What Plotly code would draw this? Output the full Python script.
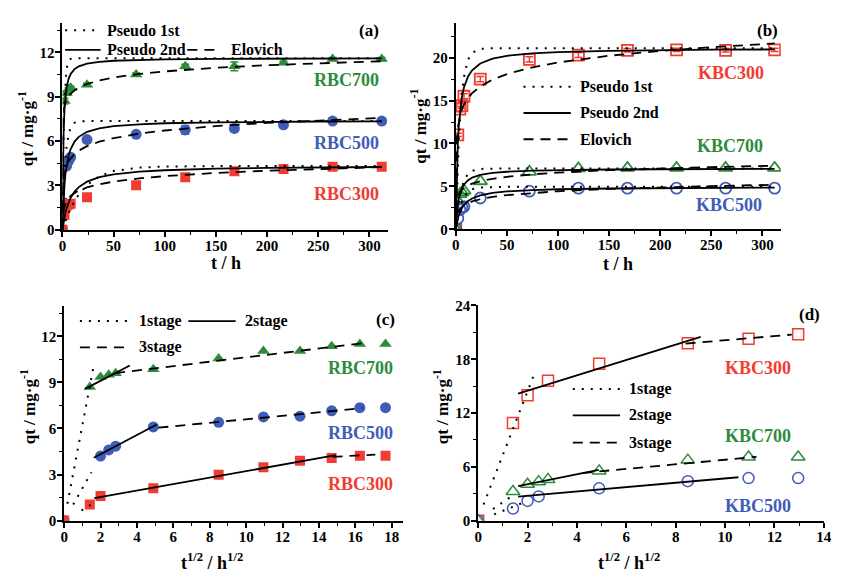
import plotly.graph_objects as go

FONT = "Liberation Serif"
GREEN, BLUE, RED = "#2E8B3E", "#3F5DB8", "#F03C32"
W, H = 843, 575

# ---------------- kinetic data (panels a, b) ----------------
kin_t = [0, 2, 4, 6, 8, 24, 72, 120, 168, 216, 264, 312]
rbc700 = [0, 8.7, 9.25, 9.5, 9.6, 9.8, 10.5, 11.05, 11.05, 11.3, 11.55, 11.55]
rbc500 = [0, 1.8, 4.3, 4.65, 4.9, 6.1, 6.45, 6.75, 6.85, 7.1, 7.35, 7.35]
rbc300 = [0, 1.0, 1.6, 1.7, 1.75, 2.2, 3.0, 3.55, 3.95, 4.1, 4.25, 4.25]
rbc700_err = [0, 0.2, 0.15, 0.1, 0.1, 0.1, 0.1, 0.15, 0.3, 0.1, 0.1, 0.1]
rbc500_err = [0, 0.15, 0.2, 0.2, 0.15, 0.1, 0.1, 0.3, 0.2, 0.1, 0.1, 0.1]
rbc300_err = [0, 0.25, 0.15, 0.1, 0.1, 0.15, 0.25, 0.2, 0.1, 0.1, 0.1, 0.1]

kbc300 = [0, 11.0, 14.0, 14.4, 15.5, 17.5, 19.8, 20.3, 20.85, 20.9, 20.85, 20.9]
kbc700 = [0, 3.3, 4.1, 4.3, 4.5, 5.6, 6.7, 7.1, 7.15, 7.15, 7.15, 7.15]
kbc500 = [0, 1.3, 2.3, 2.6, 2.65, 3.65, 4.45, 4.8, 4.8, 4.8, 4.8, 4.8]
kbc300_err = [0, 0.2, 0.3, 0.3, 0.3, 0.3, 0.3, 0.3, 0.2, 0.2, 0.2, 0.2]

curve_t = [0, 0.5, 1, 2, 3, 4, 6, 8, 12, 16, 24, 36, 50, 75, 100, 150, 200, 250, 312]
a700_pfo = [0, 3.42, 5.84, 8.70, 10.16, 10.88, 11.43, 11.56, 11.6, 11.6, 11.6, 11.6, 11.6, 11.6, 11.6, 11.6, 11.6, 11.6, 11.6]
a700_pso = [0, 4.37, 6.35, 8.21, 9.10, 9.62, 10.21, 10.53, 10.87, 11.05, 11.23, 11.36, 11.43, 11.49, 11.52, 11.56, 11.58, 11.59, 11.59]
a700_elo = [0, 7.53, 7.95, 8.37, 8.61, 8.78, 9.03, 9.20, 9.44, 9.61, 9.86, 10.10, 10.30, 10.54, 10.71, 10.96, 11.13, 11.26, 11.40]
a500_pfo = [0, 1.18, 2.17, 3.70, 4.78, 5.54, 6.45, 6.90, 7.24, 7.32, 7.35, 7.35, 7.35, 7.35, 7.35, 7.35, 7.35, 7.35, 7.35]
a500_pso = [0, 1.11, 1.93, 3.06, 3.80, 4.33, 5.02, 5.46, 5.98, 6.28, 6.62, 6.86, 7.00, 7.13, 7.20, 7.26, 7.30, 7.32, 7.33]
a500_elo = [0, 2.78, 3.29, 3.80, 4.10, 4.31, 4.62, 4.83, 5.13, 5.35, 5.65, 5.95, 6.19, 6.50, 6.71, 7.01, 7.23, 7.39, 7.56]
a300_pfo = [0, 0.11, 0.21, 0.41, 0.60, 0.78, 1.12, 1.43, 1.95, 2.38, 3.02, 3.61, 3.97, 4.20, 4.27, 4.30, 4.30, 4.30, 4.30]
a300_pso = [0, 0.25, 0.48, 0.86, 1.17, 1.43, 1.85, 2.16, 2.59, 2.88, 3.25, 3.55, 3.74, 3.93, 4.02, 4.13, 4.18, 4.21, 4.24]
a300_elo = [0, 0.90, 1.22, 1.56, 1.77, 1.91, 2.13, 2.28, 2.49, 2.64, 2.86, 3.07, 3.25, 3.47, 3.62, 3.84, 3.99, 4.11, 4.23]

b300_pfo = [0, 2.29, 4.34, 7.79, 10.52, 12.69, 15.79, 17.75, 19.76, 20.57, 21.02, 21.1, 21.1, 21.1, 21.1, 21.1, 21.1, 21.1, 21.1]
b300_pso = [0, 3.88, 6.56, 10.01, 12.14, 13.58, 15.41, 16.53, 17.81, 18.53, 19.32, 19.88, 20.21, 20.49, 20.64, 20.79, 20.87, 20.92, 20.95]
b300_elo = [0, 9.12, 10.46, 11.81, 12.60, 13.16, 13.95, 14.51, 15.30, 15.86, 16.65, 17.44, 18.08, 18.87, 19.43, 20.22, 20.78, 21.22, 21.65]
b700_pfo = [0, 0.68, 1.29, 2.34, 3.20, 3.91, 4.96, 5.67, 6.46, 6.81, 7.04, 7.10, 7.10, 7.10, 7.10, 7.10, 7.10, 7.10, 7.10]
b700_pso = [0, 1.05, 1.83, 2.91, 3.63, 4.13, 4.80, 5.22, 5.73, 6.02, 6.34, 6.58, 6.71, 6.84, 6.90, 6.97, 7.00, 7.02, 7.04]
b700_elo = [0, 2.89, 3.38, 3.86, 4.14, 4.35, 4.63, 4.83, 5.12, 5.32, 5.60, 5.89, 6.12, 6.41, 6.61, 6.89, 7.09, 7.25, 7.41]
b500_pfo = [0, 0.43, 0.82, 1.50, 2.07, 2.54, 3.27, 3.78, 4.38, 4.67, 4.88, 4.94, 4.95, 4.95, 4.95, 4.95, 4.95, 4.95, 4.95]
b500_pso = [0, 0.38, 0.71, 1.24, 1.65, 1.98, 2.48, 2.83, 3.30, 3.60, 3.96, 4.24, 4.42, 4.58, 4.67, 4.76, 4.81, 4.83, 4.86]
b500_elo = [0, 1.11, 1.50, 1.92, 2.17, 2.36, 2.61, 2.80, 3.06, 3.25, 3.51, 3.78, 3.99, 4.25, 4.44, 4.71, 4.90, 5.04, 5.19]

# ---------------- intraparticle diffusion data (panels c, d) ----------------
c_x = [0, 1.41, 2, 2.45, 2.83, 4.9, 8.49, 10.95, 12.96, 14.7, 16.25, 17.66]
c_rbc700 = [0, 8.7, 9.35, 9.5, 9.6, 9.85, 10.55, 11.05, 11.05, 11.35, 11.5, 11.5]
c_rbc500 = [0, None, 4.2, 4.6, 4.85, 6.1, 6.4, 6.75, 6.8, 7.15, 7.35, 7.35]
c_rbc300 = [0, 1.05, 1.6, None, None, 2.1, 2.98, 3.48, 3.9, 4.08, 4.22, 4.22]

d_x = [0, 1.41, 2, 2.45, 2.83, 4.9, 8.49, 10.95, 12.96]
d_kbc300 = [0, 10.9, 14.0, None, 15.6, 17.5, 19.8, 20.3, 20.8]
d_kbc700 = [0, 3.25, 4.05, 4.35, 4.6, 5.55, 6.75, 7.1, 7.1]
d_kbc500 = [0, 1.35, 2.2, 2.7, None, 3.6, 4.4, 4.75, 4.75]

c700_s1 = ([0.18, 1.66], [1.1, 10.3])
c700_s2 = ([1.15, 3.61], [8.58, 10.1])
c700_s3 = ([2.8, 16.4], [9.6, 11.55])
c500_s1 = ([0.5, 1.5], [1.05, 3.15])
c500_s2 = ([1.63, 5.09], [4.09, 6.26])
c500_s3 = ([5.18, 16.38], [6.05, 7.32])
c300_s1 = ([0.95, 1.45], [0.66, 1.02])
c300_s2 = ([1.66, 14.93], [1.47, 4.26])
c300_s3 = ([14.75, 17.1], [4.15, 4.3])

d300_s1 = ([0.22, 2.25], [1.8, 16.2])
d300_s2 = ([1.62, 9.01], [14.17, 20.5])
d300_s3 = ([8.4, 12.7], [19.75, 20.75])
d700_s1 = ([0.6, 1.45], [1.3, 2.9])
d700_s2 = ([1.62, 4.88], [3.86, 5.67])
d700_s3 = ([4.22, 11.27], [5.31, 7.12])
d500_s1 = ([0.65, 2.0], [0.7, 2.2])
d500_s2 = ([1.62, 10.54], [2.67, 4.84])

DOT = "2px,7px"
DASH = "10px,7px"

fig = go.Figure()


def pts(x, y, sym, color, ax, err=None, size=10, lw=0):
    tr = dict(x=x, y=y, mode="markers", xaxis="x" + ax, yaxis="y" + ax,
              marker=dict(symbol=sym, size=size, color=color,
                          line=dict(width=lw, color=color)),
              showlegend=False, hoverinfo="skip")
    if err is not None:
        tr["error_y"] = dict(type="data", array=err, color=color,
                             thickness=1.5, width=4)
    fig.add_trace(go.Scatter(**tr))


def line(x, y, dash, ax, width=1.8):
    fig.add_trace(go.Scatter(x=x, y=y, mode="lines", xaxis="x" + ax, yaxis="y" + ax,
                             line=dict(color="black", width=width, dash=dash),
                             showlegend=False, hoverinfo="skip"))


# panel a
pts(kin_t, rbc700, "triangle-up", GREEN, "", rbc700_err, 11)
pts(kin_t, rbc500, "circle", BLUE, "", rbc500_err, 11)
pts(kin_t, rbc300, "square", RED, "", rbc300_err, 10)
for p, s, e in [(a700_pfo, a700_pso, a700_elo), (a500_pfo, a500_pso, a500_elo),
                (a300_pfo, a300_pso, a300_elo)]:
    line(curve_t, p, DOT, "", 2)
    line(curve_t, s, "solid", "")
    line(curve_t, e, DASH, "")

# panel b
pts(kin_t, kbc300, "square-open", RED, "2", kbc300_err, 11, 1.8)
pts(kin_t, kbc700, "triangle-up-open", GREEN, "2", None, 12, 1.8)
pts(kin_t, kbc500, "circle-open", BLUE, "2", None, 11, 1.8)
for p, s, e in [(b300_pfo, b300_pso, b300_elo), (b700_pfo, b700_pso, b700_elo),
                (b500_pfo, b500_pso, b500_elo)]:
    line(curve_t, p, DOT, "2", 2)
    line(curve_t, s, "solid", "2")
    line(curve_t, e, DASH, "2")

# panel c
pts(c_x, c_rbc700, "triangle-up", GREEN, "3", None, 11)
pts(c_x, c_rbc500, "circle", BLUE, "3", None, 11)
pts(c_x, c_rbc300, "square", RED, "3", None, 10)
for s1, s2, s3 in [(c700_s1, c700_s2, c700_s3), (c500_s1, c500_s2, c500_s3),
                   (c300_s1, c300_s2, c300_s3)]:
    line(*s1, DOT, "3", 2)
    line(*s2, "solid", "3")
    line(*s3, DASH, "3")

# panel d
pts(d_x, d_kbc300, "square-open", RED, "4", None, 11, 1.5)
pts(d_x, d_kbc700, "triangle-up-open", GREEN, "4", None, 12, 1.5)
pts(d_x, d_kbc500, "circle-open", BLUE, "4", None, 11, 1.5)
line(*d300_s1, DOT, "4", 2)
line(*d300_s2, "solid", "4")
line(*d300_s3, DASH, "4")
line(*d700_s1, DOT, "4", 2)
line(*d700_s2, "solid", "4")
line(*d700_s3, DASH, "4")
line(*d500_s1, DOT, "4", 2)
line(*d500_s2, "solid", "4")


def axis(domain, rng, dtick, minor, standoff, **kw):
    d = dict(domain=domain, range=rng, dtick=dtick, tick0=0,
             showline=True, linewidth=2, linecolor="black",
             ticks="outside", ticklen=5, tickwidth=1.5, tickcolor="black",
             minor=dict(ticks="outside", ticklen=3, tickwidth=1.2,
                        tickcolor="black", dtick=minor, tick0=0),
             showgrid=False, zeroline=False, ticklabelstandoff=standoff,
             tickfont=dict(family=FONT, size=15, color="black", weight="bold"))
    d.update(kw)
    return d


def px_x(px):
    return px / W


def px_y(py):
    return 1 - py / H


fig.update_layout(
    width=W, height=H, margin=dict(l=0, r=0, t=0, b=0),
    paper_bgcolor="white", plot_bgcolor="white",
    xaxis=axis([px_x(59.3), px_x(389.4)], [0, 318], 50, 25, -4, anchor="y"),
    yaxis=axis([px_y(228), px_y(15.2)], [0, 14], 3, 1.5, -2, anchor="x"),
    xaxis2=axis([px_x(458.3), px_x(788)], [0, 318], 50, 25, -4, anchor="y2"),
    yaxis2=axis([px_y(227.7), px_y(15.7)], [0, 24], 5, 2.5, -2, anchor="x2"),
    xaxis3=axis([px_x(61), px_x(404.4)], [0, 18.6], 2, 1, -4, anchor="y3"),
    yaxis3=axis([px_y(527.3), px_y(306.1)], [0, 14], 3, 1.5, -2, anchor="x3"),
    xaxis4=axis([px_x(481), px_x(831.7)], [0, 14], 2, 1, -4, anchor="y4"),
    yaxis4=axis([px_y(527.3), px_y(306)], [0, 24], 6, 3, -2, anchor="x4"),
)

anns = []
shapes = []


def text(px, py, s, size=16, color="black", xanchor="center", angle=0):
    anns.append(dict(x=px_x(px), y=px_y(py), xref="paper", yref="paper",
                     text=s, showarrow=False, xanchor=xanchor, yanchor="middle",
                     textangle=angle,
                     font=dict(family=FONT, size=size, color=color, weight="bold")))


def seg(x0, x1, py, dash, width=1.8):
    shapes.append(dict(type="line", xref="paper", yref="paper",
                       x0=px_x(x0), x1=px_x(x1), y0=px_y(py), y1=px_y(py),
                       line=dict(color="black", width=width, dash=dash)))


# axis titles
YT = "qt / mg·g<sup>-1</sup>"
text(22, 124, YT, 17, angle=-90)
text(420, 122, YT, 17, angle=-90)
text(24, 410, YT, 17, angle=-90)
text(443, 410, YT, 17, angle=-90)
text(225, 262, "t / h", 18)
text(623, 263, "t / h", 18)
text(211, 569, "t<sup>1/2</sup> / h<sup>1/2</sup>", 18)
text(634, 569, "t<sup>1/2</sup> / h<sup>1/2</sup>", 18)

# panel labels
text(370, 23, "(a)", 17)
text(775, 23, "(b)", 17)
text(387, 320, "(c)", 17)
text(817, 315, "(d)", 17)

# series labels
text(347, 74, "RBC700", 18, GREEN)
text(347, 139, "RBC500", 18, BLUE)
text(347, 191, "RBC300", 18, RED)
text(737, 67, "KBC300", 18, RED)
text(736, 142, "KBC700", 18, GREEN)
text(735, 203, "KBC500", 18, BLUE)
text(362, 370, "RBC700", 18, GREEN)
text(362, 437, "RBC500", 18, BLUE)
text(362, 490, "RBC300", 18, RED)
text(765, 370, "KBC300", 18, RED)
text(765, 440, "KBC700", 18, GREEN)
text(765, 512, "KBC500", 18, BLUE)

# legends
seg(62, 97, 23, DOT, 2)
text(102, 23, "Pseudo 1st", 16, xanchor="left")
seg(62, 98, 43, "solid")
text(102, 43, "Pseudo 2nd", 16, xanchor="left")
seg(186, 214, 43, DASH)
text(228, 43, "Elovich", 16, xanchor="left")

seg(527, 575, 81, DOT, 2)
text(582, 81, "Pseudo 1st", 16, xanchor="left")
seg(527, 575, 108, "solid")
text(582, 108, "Pseudo 2nd", 16, xanchor="left")
seg(527, 575, 135, DASH)
text(582, 135, "Elovich", 16, xanchor="left")

seg(77, 128, 322, DOT, 2)
text(135, 322, "1stage", 16, xanchor="left")
seg(187, 235, 322, "solid")
text(242, 322, "2stage", 16, xanchor="left")
seg(77, 123, 349, DASH)
text(135, 349, "3stage", 16, xanchor="left")

seg(577, 625, 392, DOT, 2)
text(632, 392, "1stage", 16, xanchor="left")
seg(577, 625, 419, "solid")
text(632, 419, "2stage", 16, xanchor="left")
seg(577, 625, 447, DASH)
text(632, 447, "3stage", 16, xanchor="left")

fig.update_layout(annotations=anns, shapes=shapes)
fig.write_html("out.html", config={"displayModeBar": False},
               post_script="document.body.style.margin='0';document.body.style.overflow='hidden';")
